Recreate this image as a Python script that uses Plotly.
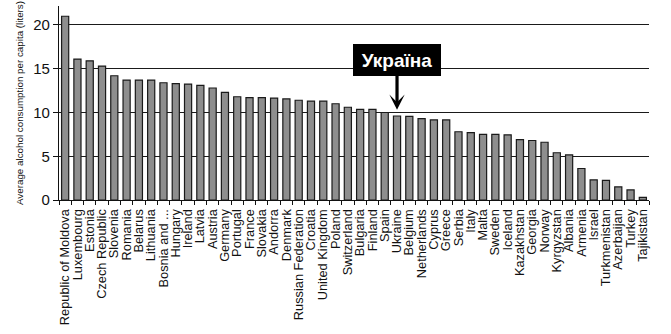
import plotly.graph_objects as go

# Average alcohol consumption per capita (liters), by country
countries = [
    "Republic of Moldova", "Luxembourg", "Estonia", "Czech Republic", "Slovenia",
    "Romania", "Belarus", "Lithuania", "Bosnia and ...", "Hungary", "Ireland",
    "Latvia", "Austria", "Germany", "Portugal", "France", "Slovakia", "Andorra",
    "Denmark", "Russian Federation", "Croatia", "United Kingdom", "Poland",
    "Switzerland", "Bulgaria", "Finland", "Spain", "Ukraine", "Belgium",
    "Netherlands", "Cyprus", "Greece", "Serbia", "Italy", "Malta", "Sweden",
    "Iceland", "Kazakhstan", "Georgia", "Norway", "Kyrgyzstan", "Albania",
    "Armenia", "Israel", "Turkmenistan", "Azerbaijan", "Turkey", "Tajikistan",
]
liters = [
    21.0, 16.1, 15.9, 15.3, 14.2,
    13.7, 13.7, 13.7, 13.4, 13.3, 13.25,
    13.1, 12.8, 12.3, 11.8, 11.7, 11.7, 11.65,
    11.55, 11.4, 11.3, 11.3, 11.0,
    10.6, 10.35, 10.35, 10.0, 9.6, 9.55,
    9.3, 9.15, 9.15, 7.8, 7.7, 7.5, 7.5,
    7.45, 6.9, 6.8, 6.6, 5.4, 5.15,
    3.6, 2.3, 2.25, 1.5, 1.15, 0.3,
]
y_ticks = [0, 5, 10, 15, 20]
highlight_country = "Ukraine"
highlight_label = "Україна"

FONT = "Liberation Sans, Arial, sans-serif"
INK = "#111111"

fig = go.Figure(
    go.Bar(
        x=countries,
        y=liters,
        marker=dict(color="#8e8e8e", line=dict(color="#1a1a1a", width=1.2)),
        hoverinfo="x+y",
    )
)

# Call-out box with a downward arrow pointing at the highlighted bar
hi = countries.index(highlight_country)
fig.add_annotation(
    x=highlight_country,
    y=liters[hi] + 0.7,
    ax=0,
    ay=-50,
    text="<b>" + highlight_label + "</b>",
    font=dict(family=FONT, size=19, color="white"),
    bgcolor="black",
    borderwidth=0,
    borderpad=5,
    width=78,
    height=22,
    showarrow=True,
    arrowhead=3,
    arrowsize=0.8,
    arrowwidth=3.2,
    arrowcolor="black",
)

fig.update_layout(
    width=671,
    height=334,
    margin=dict(l=59, r=22, t=6, b=134),
    paper_bgcolor="white",
    plot_bgcolor="white",
    bargap=0.42,
    showlegend=False,
    font=dict(family=FONT, color=INK),
)

# Every country gets its own label, drawn vertically under its bar
fig.update_xaxes(
    type="category",
    tickmode="array",
    tickvals=countries,
    ticktext=countries,
    tickangle=-90,
    tickfont=dict(family=FONT, size=12.8, color=INK),
    ticklabelstandoff=3,
    showline=True,
    linecolor="#111111",
    linewidth=1.2,
    ticks="outside",
    tickson="boundaries",
    ticklen=4,
    tickcolor="#111111",
    showgrid=False,
    range=[-0.5, len(countries) - 0.5],
)

fig.update_yaxes(
    range=[0, 22.17],
    tickvals=y_ticks,
    ticktext=[str(v) for v in y_ticks],
    tickfont=dict(family=FONT, size=15, color=INK),
    showline=True,
    linecolor="#111111",
    linewidth=1.2,
    ticks="outside",
    ticklen=5,
    tickcolor="#111111",
    showgrid=True,
    gridcolor="#1a1a1a",
    gridwidth=1,
    zeroline=False,
    title=dict(
        text="Average alcohol consumption per capita (liters)",
        font=dict(family=FONT, size=9.8, color=INK),
        standoff=7,
    ),
)

fig.write_html("out.html")
